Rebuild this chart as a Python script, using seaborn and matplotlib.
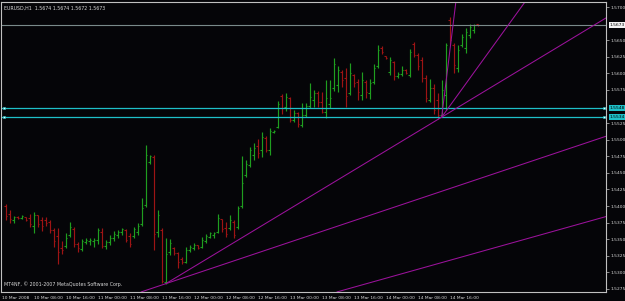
import matplotlib
matplotlib.use("Agg")
import numpy as np
import pandas as pd
import matplotlib.pyplot as plt
import matplotlib.transforms as mtransforms
import seaborn as sns

# EURUSD H1 bars, first bar 10 Mar 2008 01:00 (hour 1), one bar per hour
opens = [1.5400, 1.5388, 1.5379, 1.5384, 1.5382, 1.5384, 1.5382, 1.5370, 1.5387, 1.5379,
         1.5379, 1.5376, 1.5364, 1.5355, 1.5337, 1.5340, 1.5356, 1.5365, 1.5343, 1.5335,
         1.5346, 1.5347, 1.5347, 1.5349, 1.5361, 1.5340, 1.5346, 1.5352, 1.5356, 1.5361,
         1.5364, 1.5355, 1.5355, 1.5361, 1.5373, 1.5402, 1.5466, 1.5474, 1.5361, 1.5364,
         1.5286, 1.5331, 1.5337, 1.5329, 1.5320, 1.5316, 1.5334, 1.5337, 1.5341, 1.5338,
         1.5347, 1.5353, 1.5356, 1.5361, 1.5381, 1.5367, 1.5367, 1.5376, 1.5368, 1.5400,
         1.5447, 1.5462, 1.5477, 1.5491, 1.5484, 1.5503, 1.5484, 1.5512, 1.5519, 1.5566,
         1.5549, 1.5563, 1.5530, 1.5540, 1.5522, 1.5537, 1.5551, 1.5560, 1.5570, 1.5557,
         1.5542, 1.5554, 1.5578, 1.5582, 1.5602, 1.5593, 1.5570, 1.5598, 1.5587, 1.5567,
         1.5587, 1.5570, 1.5587, 1.5611, 1.5638, 1.5626, 1.5602, 1.5617, 1.5596, 1.5599,
         1.5605, 1.5598, 1.5644, 1.5628, 1.5620, 1.5593, 1.5560, 1.5578, 1.5560, 1.5537,
         1.5567, 1.5680, 1.5643, 1.5608, 1.5643, 1.5638, 1.5658, 1.5665, 1.5674]
highs = [1.5403, 1.5394, 1.5385, 1.5385, 1.5387, 1.5384, 1.5388, 1.5391, 1.5387, 1.5384,
         1.5384, 1.5379, 1.5367, 1.5367, 1.5347, 1.5359, 1.5376, 1.5368, 1.5346, 1.5350,
         1.5352, 1.5352, 1.5352, 1.5367, 1.5367, 1.5349, 1.5356, 1.5362, 1.5364, 1.5367,
         1.5365, 1.5359, 1.5368, 1.5374, 1.5412, 1.5492, 1.5477, 1.5477, 1.5394, 1.5367,
         1.5352, 1.5350, 1.5338, 1.5331, 1.5323, 1.5338, 1.5341, 1.5344, 1.5341, 1.5353,
         1.5358, 1.5361, 1.5361, 1.5388, 1.5381, 1.5376, 1.5387, 1.5379, 1.5400, 1.5475,
         1.5469, 1.5489, 1.5495, 1.5501, 1.5512, 1.5506, 1.5518, 1.5515, 1.5558, 1.5569,
         1.5570, 1.5564, 1.5545, 1.5542, 1.5555, 1.5555, 1.5585, 1.5575, 1.5573, 1.5572,
         1.5590, 1.5590, 1.5623, 1.5611, 1.5605, 1.5608, 1.5616, 1.5599, 1.5591, 1.5602,
         1.5590, 1.5591, 1.5614, 1.5643, 1.5641, 1.5626, 1.5625, 1.5619, 1.5602, 1.5611,
         1.5607, 1.5637, 1.5647, 1.5631, 1.5625, 1.5598, 1.5591, 1.5584, 1.5570, 1.5590,
         1.5646, 1.5685, 1.5646, 1.5643, 1.5659, 1.5668, 1.5674, 1.5674, 1.5674]
lows = [1.5379, 1.5374, 1.5374, 1.5381, 1.5381, 1.5378, 1.5368, 1.5359, 1.5368, 1.5362,
        1.5370, 1.5359, 1.5338, 1.5313, 1.5328, 1.5337, 1.5353, 1.5338, 1.5331, 1.5332,
        1.5343, 1.5341, 1.5338, 1.5343, 1.5337, 1.5335, 1.5341, 1.5347, 1.5352, 1.5356,
        1.5346, 1.5338, 1.5352, 1.5356, 1.5370, 1.5399, 1.5463, 1.5334, 1.5353, 1.5284,
        1.5283, 1.5326, 1.5326, 1.5307, 1.5313, 1.5314, 1.5331, 1.5334, 1.5335, 1.5337,
        1.5344, 1.5352, 1.5352, 1.5359, 1.5361, 1.5353, 1.5364, 1.5352, 1.5365, 1.5397,
        1.5444, 1.5459, 1.5469, 1.5472, 1.5474, 1.5481, 1.5477, 1.5510, 1.5518, 1.5539,
        1.5543, 1.5527, 1.5527, 1.5519, 1.5519, 1.5534, 1.5548, 1.5549, 1.5549, 1.5540,
        1.5533, 1.5548, 1.5573, 1.5572, 1.5579, 1.5549, 1.5567, 1.5579, 1.5560, 1.5560,
        1.5563, 1.5561, 1.5584, 1.5608, 1.5629, 1.5622, 1.5598, 1.5590, 1.5593, 1.5596,
        1.5599, 1.5595, 1.5625, 1.5605, 1.5587, 1.5557, 1.5557, 1.5539, 1.5531, 1.5534,
        1.5545, 1.5643, 1.5601, 1.5602, 1.5640, 1.5631, 1.5653, 1.5661, 1.5672]
closes = [1.5385, 1.5381, 1.5384, 1.5382, 1.5385, 1.5379, 1.5373, 1.5387, 1.5373, 1.5370,
          1.5374, 1.5364, 1.5347, 1.5331, 1.5334, 1.5352, 1.5368, 1.5343, 1.5337, 1.5347,
          1.5349, 1.5349, 1.5349, 1.5364, 1.5340, 1.5346, 1.5352, 1.5358, 1.5361, 1.5365,
          1.5349, 1.5343, 1.5365, 1.5370, 1.5397, 1.5477, 1.5475, 1.5358, 1.5387, 1.5287,
          1.5328, 1.5344, 1.5329, 1.5316, 1.5316, 1.5334, 1.5338, 1.5341, 1.5337, 1.5349,
          1.5355, 1.5359, 1.5359, 1.5382, 1.5365, 1.5358, 1.5379, 1.5356, 1.5397, 1.5435,
          1.5463, 1.5484, 1.5488, 1.5480, 1.5504, 1.5484, 1.5513, 1.5513, 1.5554, 1.5548,
          1.5564, 1.5530, 1.5540, 1.5524, 1.5537, 1.5551, 1.5564, 1.5570, 1.5557, 1.5542,
          1.5563, 1.5563, 1.5614, 1.5605, 1.5590, 1.5566, 1.5601, 1.5585, 1.5572, 1.5590,
          1.5572, 1.5585, 1.5608, 1.5635, 1.5632, 1.5623, 1.5620, 1.5596, 1.5599, 1.5605,
          1.5601, 1.5632, 1.5628, 1.5611, 1.5593, 1.5563, 1.5578, 1.5545, 1.5537, 1.5575,
          1.5643, 1.5650, 1.5612, 1.5635, 1.5655, 1.5662, 1.5670, 1.5673, 1.5673]

time_ticks = [0, 8, 16, 24, 32, 40, 48, 56, 64, 72, 80, 88, 96, 104, 112]
time_labels = ["10 Mar 2008", "10 Mar 08:00", "10 Mar 16:00", "11 Mar 00:00", "11 Mar 08:00",
               "11 Mar 16:00", "12 Mar 00:00", "12 Mar 08:00", "12 Mar 16:00", "13 Mar 00:00",
               "13 Mar 08:00", "13 Mar 16:00", "14 Mar 00:00", "14 Mar 08:00", "14 Mar 16:00"]
price_ticks = [1.5275, 1.5300, 1.5325, 1.5350, 1.5375, 1.5400, 1.5425, 1.5450, 1.5475,
               1.5500, 1.5525, 1.5575, 1.5600, 1.5625, 1.5650, 1.5700]

bid_price = 1.5673
level_prices = [1.5548, 1.5534]

# trendlines: (hour, price) anchors
line_a = [(41, 1.5283), (151, 1.5505)]      # infinite both ways
line_c = [(90, 1.5281), (151, 1.5384)]      # infinite both ways
ray_b = [(41, 1.5283), (110, 1.5534)]       # ray from low of 11 Mar
ray_d = [(110, 1.5534), (113, 1.5681)]      # fan from low of 14 Mar
ray_e = [(110, 1.5534), (125, 1.5659)]

df = pd.DataFrame({"open": opens, "high": highs, "low": lows, "close": closes})
df["hour"] = np.arange(1, len(df) + 1)
df["up"] = df["close"] >= df["open"]

sns.set_style("dark")
plt.rcParams["font.family"] = ["DejaVu Sans"]

bg = "#050508"
fg = "#d8d8d8"
frame = "#c0c0c0"
green = "#1f9e1f"
red = "#9e1414"
magenta = "#9c129c"
cyan = "#1ec0c8"

fig = plt.figure(figsize=(6.25, 3.01), dpi=100, facecolor=bg)
ax = fig.add_axes([0.0024, 0.030, 0.9672, 0.965])
ax.set_facecolor(bg)

colors = np.where(df["up"], green, red)
ax.vlines(df["hour"], df["low"], df["high"], colors=colors, linewidth=0.85)
ax.hlines(df["open"], df["hour"] - 0.35, df["hour"], colors=colors, linewidth=0.8)
ax.hlines(df["close"], df["hour"], df["hour"] + 0.35, colors=colors, linewidth=0.8)

# horizontal levels
ax.axhline(bid_price, color="#7a8a8a", linewidth=0.8)
for p in level_prices:
    ax.axhline(p, color=cyan, linewidth=0.9)
    ax.plot([0.6, 150.6], [p, p], linestyle="none", marker="s", markersize=2,
            markerfacecolor="#e8ffff", markeredgecolor=cyan, markeredgewidth=0.4)

# trend lines
for pts in (line_a, line_c):
    ax.axline(pts[0], pts[1], color=magenta, linewidth=0.75)
for pts in (ray_b, ray_d, ray_e):
    (x0, y0), (x1, y1) = pts
    k = 200.0 / (x1 - x0)
    ax.plot([x0, x0 + (x1 - x0) * k], [y0, y0 + (y1 - y0) * k], color=magenta, linewidth=0.75)

ax.set_xlim(-0.1, 151.1)
ax.set_ylim(1.52705, 1.57083)

ax.set_xticks(time_ticks)
ax.set_xticklabels(time_labels, ha="left")
ax.set_yticks(price_ticks)
ax.set_yticklabels([f"{v:.4f}" for v in price_ticks])
ax.yaxis.tick_right()
ax.tick_params(axis="both", colors=frame, labelcolor=fg, labelsize=3.2, length=2,
               width=0.5, direction="out", pad=1.2)
ax.tick_params(axis="x", pad=1.0)
ax.grid(False)
for s in ax.spines.values():
    s.set_color(frame)
    s.set_linewidth(0.8)

# price tags on the right axis
trans = mtransforms.blended_transform_factory(ax.transAxes, ax.transData)
ax.text(1.006, bid_price, f"{bid_price:.4f}", transform=trans, fontsize=3.2, color="black",
        va="center", ha="left", bbox=dict(boxstyle="square,pad=0.15", fc="#f4f4f4", ec="none"))
for p in level_prices:
    ax.text(1.006, p, f"{p:.4f}", transform=trans, fontsize=3.2, color="black",
            va="center", ha="left", bbox=dict(boxstyle="square,pad=0.15", fc=cyan, ec="none"))

ax.text(0.004, 0.985, "EURUSD,H1  1.5674 1.5674 1.5672 1.5673", transform=ax.transAxes,
        fontsize=3.4, color=fg, va="top", ha="left")
ax.text(0.004, 0.018, "MT4NF, \u00a9 2001-2007 MetaQuotes Software Corp.", transform=ax.transAxes,
        fontsize=3.4, color=fg, va="bottom", ha="left")

fig.savefig("out.png", dpi=100, facecolor=bg)
